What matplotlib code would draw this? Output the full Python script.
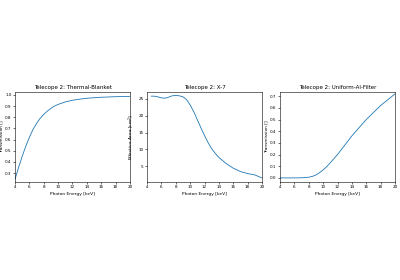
import matplotlib
matplotlib.use("Agg")
import matplotlib.pyplot as plt

energy_tb = [4, 4.5, 5, 5.5, 6, 6.5, 7, 7.5, 8, 8.5, 9, 9.5, 10, 11, 12, 13, 14, 15, 16, 18, 20]
trans_tb = [0.245, 0.35, 0.45, 0.54, 0.62, 0.69, 0.745, 0.79, 0.825, 0.855, 0.88, 0.9, 0.915, 0.937, 0.952, 0.962, 0.97, 0.975, 0.979, 0.984, 0.987]

energy_xrt = [4.6, 5, 5.5, 6, 6.5, 7, 7.5, 8, 8.5, 9, 9.5, 10, 10.5, 11, 11.5, 12, 12.5, 13, 13.5, 14, 15, 16, 17, 18, 19, 20]
area_xrt = [25.8, 25.8, 25.6, 25.3, 25.2, 25.5, 25.9, 26.0, 25.9, 25.6, 24.8, 23.2, 21.2, 18.8, 16.4, 14.1, 12.0, 10.2, 8.8, 7.6, 5.8, 4.4, 3.4, 2.8, 2.4, 1.5]

energy_al = [4, 5, 6, 7, 7.5, 8, 8.5, 9, 9.5, 10, 10.5, 11, 12, 13, 14, 15, 16, 17, 18, 19, 20]
trans_al = [0.0, 0.0, 0.0, 0.001, 0.003, 0.006, 0.013, 0.025, 0.045, 0.068, 0.097, 0.13, 0.2, 0.28, 0.36, 0.43, 0.5, 0.56, 0.62, 0.67, 0.72]

titles = ["Telecope 2: Thermal-Blanket", "Telecope 2: X-7", "Telecope 2: Uniform-Al-Filter"]
ylabels = ["Transmission []", "Effective Area [cm$^2$]", "Transmission []"]
xlabel = "Photon Energy [keV]"
xticks = [4, 6, 8, 10, 12, 14, 16, 18, 20]

fig = plt.figure(figsize=(4, 2.8), dpi=100)
lefts = [0.0375, 0.3675, 0.70]
width = 0.2875
bottom, height = 0.35, 0.321
data = [(energy_tb, trans_tb), (energy_xrt, area_xrt), (energy_al, trans_al)]
yticks_list = [[0.3, 0.4, 0.5, 0.6, 0.7, 0.8, 0.9, 1.0], [5, 10, 15, 20, 25], [0.0, 0.1, 0.2, 0.3, 0.4, 0.5, 0.6, 0.7]]
ylims = [(0.22, 1.025), (0.3, 27.0), (-0.035, 0.735)]
for i in range(3):
    ax = fig.add_axes([lefts[i], bottom, width, height])
    x, y = data[i]
    ax.plot(x, y, color="#1f77b4", lw=0.6)
    ax.set_xlim(4, 20)
    ax.set_ylim(*ylims[i])
    ax.set_xticks(xticks)
    ax.set_yticks(yticks_list[i])
    ax.set_title(titles[i], fontsize=4, pad=2)
    ax.set_xlabel(xlabel, fontsize=3.2, labelpad=1.5)
    ax.set_ylabel(ylabels[i], fontsize=3.2, labelpad=1.5)
    ax.tick_params(labelsize=3, length=1.5, width=0.4, pad=1)
    for s in ax.spines.values():
        s.set_linewidth(0.4)

fig.savefig("out.png", dpi=100)
